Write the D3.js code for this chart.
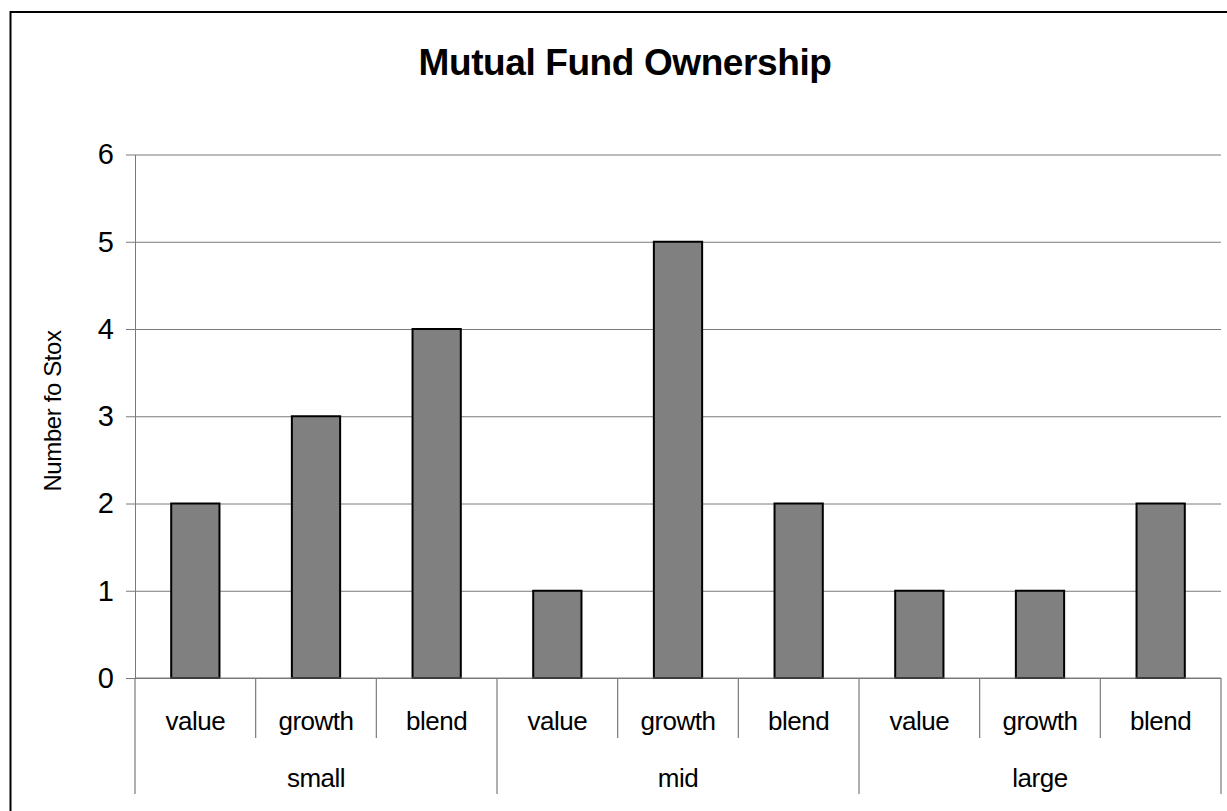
<!DOCTYPE html>
<html>
<head>
<meta charset="utf-8">
<script src="https://cdn.jsdelivr.net/npm/d3@7"></script>
<style>
  html, body { margin: 0; padding: 0; background: #fff; }
  svg { display: block; }
  text { font-family: "Liberation Sans", Arial, Helvetica, sans-serif; fill: #000; }
</style>
</head>
<body>
<svg id="chart" width="1227" height="811"></svg>
<script>
// Fund style categories, grouped by market-cap size
const groups = ["small", "mid", "large"];
const styles = ["value", "growth", "blend"];
// Number of stocks held in each size/style bucket, in group order
const values = [2, 3, 4, 1, 5, 2, 1, 1, 2];
const yTicks = [0, 1, 2, 3, 4, 5, 6];
const title = "Mutual Fund Ownership";
const yLabel = "Number fo Stox";

const categories = [];
groups.forEach(g => styles.forEach(s => categories.push({ group: g, style: s })));
categories.forEach((c, i) => { c.value = values[i]; c.idx = i; });

const svg = d3.select("#chart");
const plotLeft = 135, plotRight = 1221, plotTop = 154.5, plotZero = 678;
const gridColor = "#7a7a7a";

// Outer chart frame
svg.append("rect")
  .attr("x", 10.5).attr("y", 12)
  .attr("width", 1260).attr("height", 860)
  .attr("fill", "#fff").attr("stroke", "#000").attr("stroke-width", 2);

const x = d3.scaleBand()
  .domain(categories.map(c => c.idx))
  .range([plotLeft, plotRight])
  .paddingInner(0).paddingOuter(0);

const y = d3.scaleLinear().domain([0, 6]).range([plotZero, plotTop]);

// Horizontal gridlines
svg.append("g")
  .attr("transform", `translate(${plotLeft},0)`)
  .call(d3.axisLeft(y).tickValues(yTicks).tickSize(-(plotRight - plotLeft)).tickFormat(""))
  .call(g => g.select(".domain").remove())
  .call(g => g.selectAll("line").attr("stroke", gridColor).attr("stroke-width", 1));

// Y axis with ticks and labels
svg.append("g")
  .attr("transform", `translate(${plotLeft},0)`)
  .call(d3.axisLeft(y).tickValues(yTicks).tickSize(9).tickSizeOuter(0).tickPadding(12).tickFormat(d3.format("d")))
  .call(g => g.select(".domain").attr("stroke", gridColor))
  .call(g => g.selectAll("line").attr("stroke", gridColor))
  .call(g => g.selectAll("text")
    .style("font-family", '"Liberation Sans", Arial, sans-serif')
    .style("font-size", "29px").attr("fill", "#000"));

// Bars
const barW = x.bandwidth() * 0.4;
svg.append("g").selectAll("rect")
  .data(categories)
  .join("rect")
  .attr("x", d => x(d.idx) + (x.bandwidth() - barW) / 2)
  .attr("y", d => y(d.value))
  .attr("width", barW)
  .attr("height", d => y(0) - y(d.value))
  .attr("fill", "#808080")
  .attr("stroke", "#000")
  .attr("stroke-width", 2);

// Zero baseline
svg.append("line")
  .attr("x1", plotLeft).attr("x2", plotRight)
  .attr("y1", y(0)).attr("y2", y(0))
  .attr("stroke", gridColor).attr("stroke-width", 1);

// Category dividers below the axis: short for styles, long for size groups
const boundaries = d3.range(categories.length + 1);
svg.append("g").selectAll("line")
  .data(boundaries)
  .join("line")
  .attr("x1", i => i < categories.length ? x(i) : plotRight)
  .attr("x2", i => i < categories.length ? x(i) : plotRight)
  .attr("y1", plotZero)
  .attr("y2", i => i % styles.length === 0 ? 794 : 738)
  .attr("stroke", gridColor).attr("stroke-width", 1.2);

// Style labels
svg.append("g").selectAll("text")
  .data(categories)
  .join("text")
  .attr("x", d => x(d.idx) + x.bandwidth() / 2)
  .attr("y", 730)
  .attr("text-anchor", "middle")
  .style("font-size", "26px")
  .style("letter-spacing", "-0.5px")
  .text(d => d.style);

// Size group labels
svg.append("g").selectAll("text")
  .data(groups)
  .join("text")
  .attr("x", (g, i) => (x(i * 3) + (i * 3 + 3 < categories.length ? x(i * 3 + 3) : plotRight)) / 2)
  .attr("y", 787)
  .attr("text-anchor", "middle")
  .style("font-size", "26px")
  .style("letter-spacing", "-0.5px")
  .text(g => g);

// Y axis title
svg.append("text")
  .attr("transform", "translate(61,411) rotate(-90)")
  .attr("text-anchor", "middle")
  .style("font-size", "24px")
  .style("letter-spacing", "-0.4px")
  .text(yLabel);

// Chart title
svg.append("text")
  .attr("x", 625)
  .attr("y", 75)
  .attr("text-anchor", "middle")
  .style("font-size", "37px")
  .style("font-weight", "bold")
  .style("letter-spacing", "-0.4px")
  .text(title);
</script>
</body>
</html>
